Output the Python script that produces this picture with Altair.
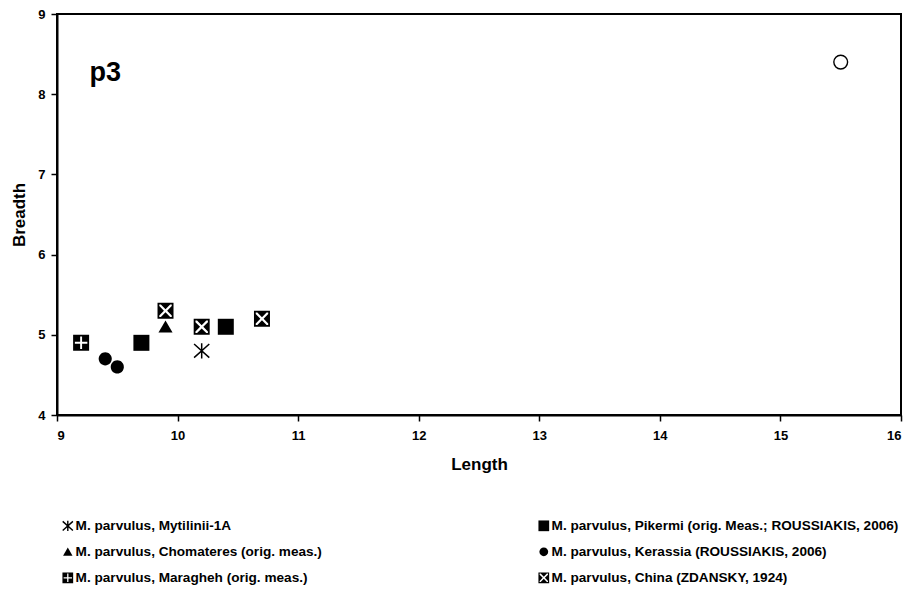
import altair as alt
import pandas as pd

series_names = [
    "M. parvulus, Mytilinii-1A",
    "M. parvulus, Chomateres (orig. meas.)",
    "M. parvulus, Maragheh (orig. meas.)",
    "M. parvulus, Pikermi (orig. Meas.; ROUSSIAKIS, 2006)",
    "M. parvulus, Kerassia (ROUSSIAKIS, 2006)",
    "M. parvulus, China (ZDANSKY, 1924)",
]
mytilinii_length = [10.2]
mytilinii_breadth = [4.8]
chomateres_length = [9.9]
chomateres_breadth = [5.1]
maragheh_length = [9.2]
maragheh_breadth = [4.9]
pikermi_length = [9.7, 10.4]
pikermi_breadth = [4.9, 5.1]
kerassia_length = [9.4, 9.5]
kerassia_breadth = [4.7, 4.6]
china_length = [9.9, 10.2, 10.7]
china_breadth = [5.3, 5.1, 5.2]
other_length = [15.5]
other_breadth = [8.4]

x_ticks = [9, 10, 11, 12, 13, 14, 15, 16]
y_ticks = [4, 5, 6, 7, 8, 9]
panel_label = ["p3"]
panel_label_x = [9.27]
panel_label_y = [8.17]

FONT = "Liberation Sans"

asterisk = "M-0.95,-0.85L0.95,0.85M0.95,-0.85L-0.95,0.85M0,-0.95L0,0.95"
triangle = "M0,-0.78L0.88,0.72L-0.88,0.72Z"
circle = "M-0.82,0A0.82,0.82 0 1,0 0.82,0A0.82,0.82 0 1,0 -0.82,0Z"
square_x = ("M-1,-1L1,-1L1,1L-1,1Z"
            "M-0.78,-0.78L-0.78,0.78L0.78,0.78L0.78,-0.78Z"
            "M-0.58,-0.78L0.58,-0.78L0,-0.2Z"
            "M0.78,-0.58L0.78,0.58L0.2,0Z"
            "M0.58,0.78L-0.58,0.78L0,0.2Z"
            "M-0.78,0.58L-0.78,-0.58L-0.2,0Z")
square_plus = ("M-1,-1L1,-1L1,1L-1,1Z"
               "M-0.78,-0.78L-0.78,0.78L0.78,0.78L0.78,-0.78Z"
               "M-0.78,-0.78L-0.12,-0.78L-0.12,-0.12L-0.78,-0.12Z"
               "M0.12,-0.78L0.78,-0.78L0.78,-0.12L0.12,-0.12Z"
               "M0.12,0.12L0.78,0.12L0.78,0.78L0.12,0.78Z"
               "M-0.78,0.12L-0.12,0.12L-0.12,0.78L-0.78,0.78Z")
shapes = [asterisk, triangle, square_plus, "square", circle, square_x]
fills = ["transparent", "black", "black", "black", "black", "black"]
strokes = ["black", "transparent", "transparent", "transparent", "transparent", "transparent"]

rows = []
for name, ls, bs in zip(series_names,
                        [mytilinii_length, chomateres_length, maragheh_length, pikermi_length, kerassia_length, china_length],
                        [mytilinii_breadth, chomateres_breadth, maragheh_breadth, pikermi_breadth, kerassia_breadth, china_breadth]):
    for l, b in zip(ls, bs):
        rows.append({"series": name, "Length": l, "Breadth": b})
df = pd.DataFrame(rows)
df_other = pd.DataFrame({"Length": other_length, "Breadth": other_breadth})
df_label = pd.DataFrame({"label": panel_label, "Length": panel_label_x, "Breadth": panel_label_y})

xscale = alt.Scale(domain=[9, 16], nice=False, zero=False)
yscale = alt.Scale(domain=[4, 9], nice=False, zero=False)

xenc = alt.X("Length:Q", scale=xscale, title="Length",
             axis=alt.Axis(values=x_ticks, format="d", titlePadding=14, labelPadding=8))
yenc = alt.Y("Breadth:Q", scale=yscale, title="Breadth",
             axis=alt.Axis(values=y_ticks, format="d", titlePadding=9, labelPadding=6))

legend = alt.Legend(
    title=None, orient="none", legendX=4, legendY=505, columns=2,
    columnPadding=213, rowPadding=10, labelFont=FONT, labelFontSize=13.6,
    labelFontWeight="bold", labelColor="black", labelLimit=500, labelOffset=1,
    symbolSize=115, symbolStrokeWidth=1.4, padding=0,
)

points = alt.Chart(df).mark_point(filled=True, size=256, opacity=1, strokeWidth=1.5).encode(
    x=xenc,
    y=yenc,
    shape=alt.Shape("series:N", scale=alt.Scale(domain=series_names, range=shapes), legend=legend),
    fill=alt.Fill("series:N", scale=alt.Scale(domain=series_names, range=fills), legend=legend),
    stroke=alt.Stroke("series:N", scale=alt.Scale(domain=series_names, range=strokes), legend=legend),
)

other = alt.Chart(df_other).mark_point(shape="circle", filled=False, size=190, color="black",
                                        opacity=1, strokeWidth=1.4).encode(x="Length:Q", y="Breadth:Q")

label = alt.Chart(df_label).mark_text(font=FONT, fontSize=27, fontWeight="bold", align="left",
                                      baseline="alphabetic", color="black").encode(
    x="Length:Q", y="Breadth:Q", text="label:N")

chart = alt.layer(points, other, label).properties(
    width=844, height=401,
    background="white",
    autosize=alt.AutoSizeParams(type="none"),
    padding={"left": 49, "top": 6, "right": 2, "bottom": 170},
).configure_view(
    stroke="black", strokeWidth=2
).configure_axis(
    grid=False, domainColor="black", domainWidth=2, tickColor="black", tickWidth=1.5,
    tickSize=6, labelFont=FONT, labelFontSize=13, labelFontWeight="bold", labelColor="black",
    titleFont=FONT, titleFontSize=17, titleFontWeight="bold", titleColor="black",
)

chart.save("out.html", embed_options={"renderer": "svg", "actions": False})
